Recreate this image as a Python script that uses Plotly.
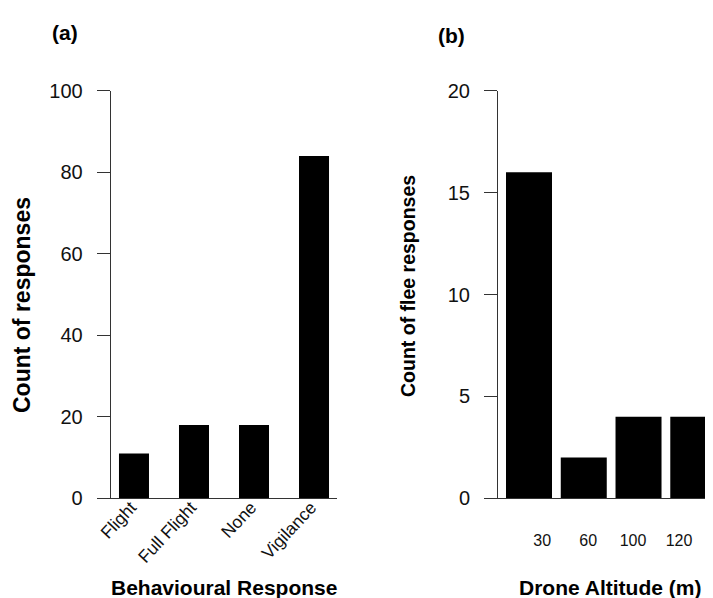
import plotly.graph_objects as go

# ---- data ----
behaviour_categories = ["Flight", "Full Flight", "None", "Vigilance"]
behaviour_counts = [11, 18, 18, 84]

altitude_labels = ["30", "60", "100", "120"]
flee_counts = [16, 2, 4, 4]

# the page body has an 8px margin, so the figure is sized to fill the rest of the window
OFF = 8
W, H = 713 - OFF, 598 - OFF
FONT = "Liberation Sans, Arial, Helvetica, sans-serif"
AX = "#333333"

def px_x(p):
    return (p - OFF) / W

def px_y(p):
    return 1 - (p - OFF) / H

fig = go.Figure()

fig.add_trace(go.Bar(
    x=list(range(len(behaviour_categories))), y=behaviour_counts,
    width=0.5, marker=dict(color="black", line=dict(width=0)),
    xaxis="x", yaxis="y", showlegend=False,
    customdata=behaviour_categories, hovertemplate="%{customdata}: %{y}<extra></extra>",
))
fig.add_trace(go.Bar(
    x=list(range(len(altitude_labels))), y=flee_counts,
    width=0.84, marker=dict(color="black", line=dict(width=0)),
    xaxis="x2", yaxis="y2", showlegend=False,
    customdata=altitude_labels, hovertemplate="%{customdata} m: %{y}<extra></extra>",
))

ydom = [px_y(498.3), px_y(90.7)]

common_y = dict(
    showgrid=False, zeroline=False, showline=True, linecolor=AX, linewidth=1,
    ticks="outside", ticklen=13, tickwidth=1, tickcolor=AX,
    tickfont=dict(family=FONT, size=20, color="#111"),
    ticklabelstandoff=10, automargin=False, domain=ydom,
)

fig.update_layout(
    width=W, height=H,
    margin=dict(l=0, r=0, t=0, b=0),
    paper_bgcolor="white", plot_bgcolor="white",
    font=dict(family=FONT, color="black"),
    xaxis=dict(
        domain=[px_x(110.7), px_x(337)], range=[-0.388, 3.383],
        tickmode="array", tickvals=list(range(len(behaviour_categories))),
        ticktext=behaviour_categories, tickangle=-47,
        tickfont=dict(family=FONT, size=17.5, color="#111"),
        showgrid=False, zeroline=False, showline=True, linecolor=AX, linewidth=1,
        ticks="", automargin=False, ticklabelstandoff=-9, ticklabelshift=-3,
    ),
    yaxis=dict(range=[0, 100], dtick=20, anchor="x", **common_y),
    xaxis2=dict(
        domain=[px_x(498), 1.0], range=[-0.566, 3.36], anchor="y2",
        tickmode="array", tickvals=[0.24, 1.08, 1.9, 2.74],
        ticktext=altitude_labels,
        tickfont=dict(family=FONT, size=16, color="#111"),
        showgrid=False, zeroline=False, showline=True, linecolor=AX, linewidth=1,
        ticks="", automargin=False, ticklabelstandoff=27,
    ),
    yaxis2=dict(range=[0, 20], dtick=5, anchor="x2", **common_y),
)

ann = [
    dict(text="<b>(a)</b>", x=px_x(65), y=px_y(32), size=21, angle=0),
    dict(text="<b>(b)</b>", x=px_x(451), y=px_y(35), size=21, angle=0),
    dict(text="<b>Count of responses</b>", x=px_x(22), y=px_y(305), size=23, angle=-90),
    dict(text="<b>Count of flee responses</b>", x=px_x(408), y=px_y(286), size=19.5, angle=-90),
    dict(text="<b>Behavioural Response</b>", x=px_x(224), y=px_y(587), size=21, angle=0),
    dict(text="<b>Drone Altitude (m)</b>", x=px_x(610), y=px_y(587), size=21, angle=0),
]
for a in ann:
    fig.add_annotation(
        text=a["text"], x=a["x"], y=a["y"], xref="paper", yref="paper",
        xanchor="center", yanchor="middle", showarrow=False, textangle=a["angle"],
        font=dict(family=FONT, size=a["size"], color="black"),
    )

fig.write_html("out.html")
